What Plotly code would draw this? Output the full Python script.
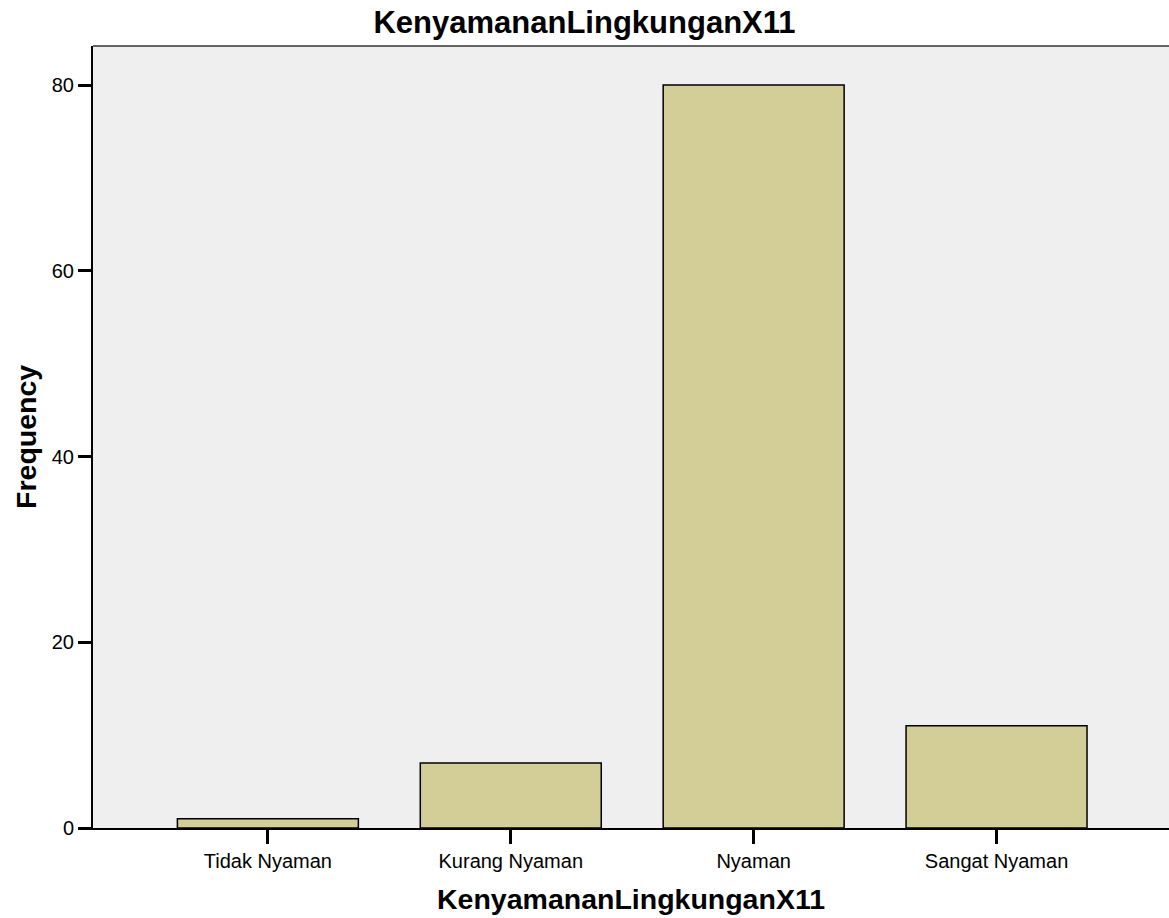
import plotly.graph_objects as go

categories = ["Tidak Nyaman", "Kurang Nyaman", "Nyaman", "Sangat Nyaman"]
frequency = [1, 7, 80, 11]
y_ticks = [0, 20, 40, 60, 80]

FONT = "Liberation Sans, Arial, sans-serif"

fig = go.Figure()

fig.add_trace(go.Bar(
    x=categories,
    y=frequency,
    width=0.745,
    marker=dict(color="#D3CE98", line=dict(color="#000000", width=1.5)),
    showlegend=False,
))

# top border of the plot frame
fig.add_shape(
    type="line", xref="paper", yref="paper",
    x0=0, x1=1, y0=1, y1=1,
    line=dict(color="#333333", width=1.5),
)

# axis titles as annotations so they sit where SPSS puts them
fig.add_annotation(
    text="<b>KenyamananLingkunganX11</b>",
    xref="paper", yref="paper", x=0.5, y=-0.0914,
    xanchor="center", yanchor="middle", showarrow=False,
    font=dict(family=FONT, size=28.5, color="#000000"),
)
fig.add_annotation(
    text="<b>Frequency</b>",
    xref="paper", yref="paper", x=-0.0623, y=0.5,
    xanchor="center", yanchor="middle", showarrow=False, textangle=-90,
    font=dict(family=FONT, size=28.5, color="#000000"),
)

fig.update_layout(
    width=1169, height=918,
    margin=dict(l=93, r=0, t=46, b=90),
    paper_bgcolor="#FFFFFF",
    plot_bgcolor="#EFEFEF",
    font=dict(family=FONT, color="#000000", size=20),
    title=dict(
        text="<b>KenyamananLingkunganX11</b>",
        x=0.5, xanchor="center", xref="container",
        y=1 - 22 / 918, yanchor="middle", yref="container",
        font=dict(size=31),
    ),
)

fig.update_xaxes(
    range=[-0.72, 3.71],
    showgrid=False, zeroline=False,
    showline=True, linecolor="#000000", linewidth=2,
    ticks="outside", ticklen=14, tickwidth=3, tickcolor="#000000",
    tickfont=dict(size=20),
)

fig.update_yaxes(
    range=[0, 84.2],
    tickvals=y_ticks,
    showgrid=False, zeroline=False,
    showline=True, linecolor="#000000", linewidth=2,
    ticks="outside", ticklen=13, tickwidth=3, tickcolor="#000000",
    tickfont=dict(size=20),
)

fig.write_html(
    "out.html",
    config={"displayModeBar": False},
    post_script="document.body.style.margin='0';",
)
